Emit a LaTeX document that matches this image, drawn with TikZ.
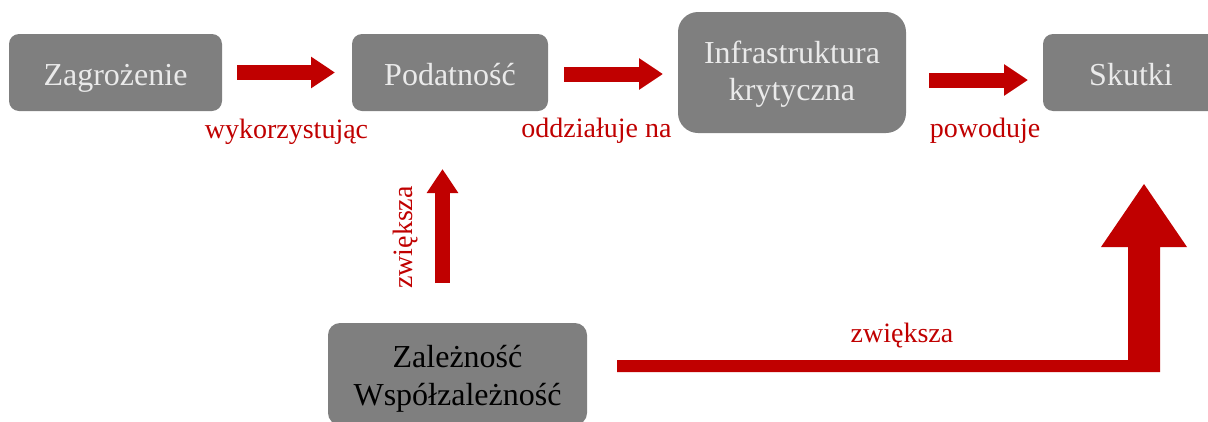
\documentclass[tikz,border=0pt]{standalone}
\usepackage{fontspec}
\setmainfont{Liberation Serif}
\usetikzlibrary{arrows.meta,calc}
\definecolor{boxgray}{RGB}{127,127,127}
\definecolor{boxtext}{RGB}{234,234,234}
\definecolor{darkred}{RGB}{192,0,0}
\tikzset{
  box/.style={rectangle, rounded corners=10pt, fill=boxgray, draw=none,
    inner sep=0pt, outer sep=0pt, text=boxtext, align=center,
    font=\fontsize{32}{37}\selectfont},
  oneline/.style={text height=32pt, text depth=7pt},
  blockarrow/.style={draw=darkred, line width=15pt,
    -{Triangle[length=24pt,width=30pt]}},
  lbl/.style={text=darkred, font=\fontsize{28}{32}\selectfont, inner sep=0pt, anchor=base}
}
\begin{document}
\begin{tikzpicture}[x=1pt,y=-1pt]
\useasboundingbox (0,0) rectangle (1208,421);
\clip (0,0) rectangle (1208,421);

% boxes
\node[box, oneline, minimum width=213pt, minimum height=77pt] (zag) at (115.5,72.5) {Zagrożenie};
\node[box, oneline, minimum width=196pt, minimum height=77pt] (pod) at (450,72.5) {Podatność};
\node[box, rounded corners=20pt, text height=63pt, text depth=7pt,
      minimum width=228pt, minimum height=121pt] (inf) at (792,72.5) {Infrastruktura\\krytyczna};
\node[box, oneline, minimum width=176pt, minimum height=77pt] (sku) at (1131,72.5) {Skutki};
\node[box, text=black, rounded corners=12pt, text height=69pt, text depth=7pt,
      font=\fontsize{32}{38}\selectfont,
      minimum width=259pt, minimum height=102pt] (zal) at (457.5,374) {Zależność\\Współzależność};

% straight block arrows
\draw[blockarrow, shorten <=15pt, shorten >=17pt] (zag.east) -- (pod.west);
\draw[blockarrow, shorten <=16pt, shorten >=15pt] ([yshift=-1.5pt]pod.east) -- ([yshift=-1.5pt]inf.west);
\draw[blockarrow, shorten <=23pt, shorten >=15pt] ([yshift=-7.5pt]inf.east) -- ([yshift=-7.5pt]sku.west);
\draw[blockarrow, shorten <=40pt, shorten >=58pt] ([xshift=-15pt]zal.north) -- ([xshift=-7.5pt]pod.south);

% bent arrow from Zależność to Skutki
\coordinate (bs) at (617,366);
\coordinate (bt) at (1144,184);
\fill[darkred] ($(bs)+(0,-6)$) -- (1128,360) -- (1128,247) -- (1101,247) -- (bt)
  -- (1187,247) -- (1160,247) -- (1160,372) -- ($(bs)+(0,6)$) -- cycle;

% labels
\node[lbl] (l1) at (286.5,138) {wykorzystując};
\node[lbl] (l2) at (596.5,137) {oddziałuje na};
\node[lbl] (l3) at (985,137) {powoduje};
\node[lbl, rotate=90] (l4) at (412.7,237.5) {zwiększa};
\node[lbl] (l5) at (902,342.7) {zwiększa};
\end{tikzpicture}
\end{document}
